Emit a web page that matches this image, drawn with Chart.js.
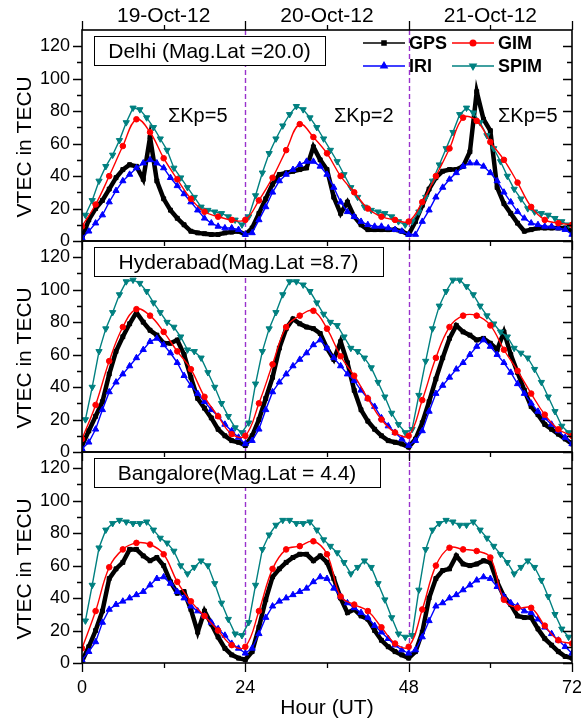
<!DOCTYPE html>
<html>
<head>
<meta charset="utf-8">
<title>VTEC over Delhi, Hyderabad and Bangalore, 19-21 Oct 2012</title>
<script src="https://cdn.jsdelivr.net/npm/chart.js@4.4.1/dist/chart.umd.min.js"></script>
<style>
  html, body { margin: 0; padding: 0; background: #fff; }
  canvas { display: block; }
</style>
</head>
<body>
<canvas id="vtec" width="581" height="721"></canvas>
<script>
// sampling times in hours UT, counted from 00 UT on 19 Oct 2012
function range(start, step, n) {
  return Array.from({length: n}, (_, i) => start + i * step);
}
const gpsHours = range(0, 1, 73);
const gimHours = range(0, 2, 37);
const iriHours = range(0, 1, 73);
const spimHours = range(0.5, 1, 72);

// axis labels
const dayCentres = [12, 36, 60];
const dayLabels = ['19-Oct-12', '20-Oct-12', '21-Oct-12'];
const yTicks = [0, 20, 40, 60, 80, 100, 120];
const kpHours = [17, 41.4, 65.5];
const kpValues = [5, 2, 5];

// Delhi (Mag.Lat 20.0)
const gpsDelhi = [
  2, 13, 20, 25, 32, 39, 44, 47, 46, 38, 64, 37, 26, 19, 14, 10, 6, 5, 4.5, 4, 4, 5, 5.5, 6,
  4, 8, 17, 26, 35, 41, 42, 43, 44, 45, 58, 50, 44, 27, 17, 24, 15, 10, 7, 7, 7, 7, 7, 6,
  4, 12, 22, 32, 39, 43, 44, 44, 46, 55, 92, 75, 68, 33, 23, 17, 11, 6, 7, 8, 8, 8, 8, 8, 6];
const gimDelhi = [
  9, 22.5, 40, 58.5, 75, 67, 51, 38, 26, 18, 15, 13,
  13, 25, 39, 56, 72, 64, 54, 40, 30, 20, 15, 13,
  12, 24, 40, 57, 76, 74, 61, 50, 36, 21, 13, 11, 10];
const iriDelhi = [
  2, 6, 11, 16, 24, 31, 37, 41, 45, 48, 50, 48, 45, 39, 34, 29, 24, 19, 14, 11, 9, 8, 8, 7,
  4, 5, 13, 21, 30, 37, 41, 44, 47, 49, 49, 46, 41, 33, 24, 18, 15, 12, 10, 9, 9, 8, 7, 6,
  4, 4, 12, 19, 27, 33, 38, 42, 46, 48, 48, 46, 42, 37, 30, 24, 18, 14, 11, 10, 9, 9, 8, 7, 4];
const spimDelhi = [
  16, 25, 37, 46, 53, 62, 73, 82, 81, 76, 70, 63, 56, 45, 39, 33, 27, 21, 19, 18, 17, 15, 13, 10,
  15, 28, 42, 54, 63, 71, 78, 83, 81, 76, 70, 63, 56, 49, 41, 33, 27, 21, 19, 18, 17, 15, 12, 10,
  12, 18, 27, 37, 47, 57, 67, 78, 82, 79, 73, 65, 57, 49, 40, 32, 26, 20, 18, 17, 16, 14, 12, 10];

// Hyderabad (Mag.Lat 8.7)
const gpsHyderabad = [
  4, 13, 22, 31, 48, 62, 71, 79, 86, 80, 75, 72, 67, 67, 69, 60, 46, 33, 27, 21, 14, 10, 7, 6,
  4, 10, 20, 33, 46, 64, 76, 82, 79, 77, 76, 73, 64, 57, 68, 55, 38, 26, 19, 14, 10, 7, 6, 5,
  3, 8, 18, 31, 45, 58, 70, 78, 74, 72, 69, 70, 67, 63, 74, 60, 49, 38, 28, 23, 17, 14, 11, 8, 5];
const gimHyderabad = [
  8, 29, 56, 77, 88, 84, 74, 62, 51, 34, 22, 11,
  10, 30, 54, 77, 84, 87, 76, 59, 47, 33, 20, 12,
  10, 32, 58, 77, 84, 84, 78, 63, 50, 36, 23, 14, 10];
const iriHyderabad = [
  2, 6, 14, 26, 37, 43, 48, 53, 58, 63, 68, 70, 66, 61, 55, 47, 41, 36, 31, 26, 22, 17, 13, 9,
  5, 7, 14, 26, 37, 43, 48, 53, 57, 61, 66, 69, 64, 58, 53, 48, 44, 38, 33, 28, 21, 16, 12, 8,
  4, 7, 13, 25, 36, 41, 46, 51, 55, 60, 65, 69, 65, 60, 55, 49, 42, 36, 30, 25, 21, 17, 13, 9, 5];
const spimHyderabad = [
  20, 40, 62, 76, 86, 97, 105, 106, 104, 99, 92, 86, 80, 77, 71, 63, 62, 58, 49, 40, 30, 22, 15, 12,
  18, 42, 62, 76, 86, 97, 105, 105, 103, 99, 92, 85, 80, 78, 71, 64, 62, 58, 52, 43, 34, 24, 17, 12,
  14, 35, 56, 76, 90, 99, 106, 106, 102, 97, 90, 84, 79, 74, 71, 64, 61, 58, 51, 43, 34, 25, 16, 12];

// Bangalore (Mag.Lat 4.4)
const gpsBangalore = [
  1, 10, 20, 32, 52, 58, 62, 70, 70, 66, 63, 65, 60, 50, 43, 44, 33, 19, 32, 24, 16, 9, 5, 3,
  2, 7, 22, 39, 53, 58, 62, 65, 67, 67, 63, 66, 62, 52, 40, 31, 33, 29, 27, 20, 14, 10, 7, 5,
  3, 7, 19, 40, 52, 57, 58, 66, 61, 60, 61, 63, 62, 50, 41, 36, 29, 28, 28, 21, 15, 11, 7, 4, 3];
const gimBangalore = [
  9, 32, 59, 70, 74, 73, 67, 50, 38, 29, 20, 11,
  10, 32, 58, 70, 72, 75, 67, 41, 36, 32, 22, 12,
  10, 33, 60, 71, 70, 69, 65, 39, 34, 34, 23, 14, 12];
const iriBangalore = [
  2, 7, 13, 25, 33, 36, 38, 40, 42, 44, 48, 52, 53, 49, 44, 40, 35, 32, 29, 25, 21, 17, 12, 9,
  6, 9, 18, 28, 35, 38, 40, 42, 44, 46, 50, 53, 52, 46, 41, 37, 34, 31, 28, 23, 19, 15, 11, 8,
  6, 8, 16, 26, 35, 37, 40, 42, 45, 48, 51, 53, 52, 47, 41, 37, 35, 32, 31, 27, 22, 18, 14, 10, 6];
const spimBangalore = [
  26, 48, 71, 82, 86, 88, 87, 86, 86, 87, 82, 77, 74, 69, 60, 55, 59, 63, 60, 49, 37, 27, 18, 17,
  25, 48, 70, 79, 85, 88, 88, 86, 86, 87, 82, 76, 72, 68, 62, 55, 59, 63, 59, 49, 39, 28, 18, 16,
  17, 45, 70, 82, 86, 88, 87, 85, 85, 87, 82, 77, 72, 67, 62, 55, 59, 63, 59, 51, 41, 30, 21, 16];

const FONT = "'Liberation Sans', Arial, Helvetica, sans-serif";
Chart.defaults.font.family = FONT;
Chart.defaults.color = '#000';

// one panel per station, top to bottom
const panels = [
  {id: 'yDelhi', label: 'Delhi (Mag.Lat =20.0)', boxWidth: 231,
   gps: gpsDelhi, gim: gimDelhi, iri: iriDelhi, spim: spimDelhi},
  {id: 'yHyderabad', label: 'Hyderabad(Mag.Lat =8.7)', boxWidth: 289,
   gps: gpsHyderabad, gim: gimHyderabad, iri: iriHyderabad, spim: spimHyderabad},
  {id: 'yBangalore', label: 'Bangalore(Mag.Lat = 4.4)', boxWidth: 286,
   gps: gpsBangalore, gim: gimBangalore, iri: iriBangalore, spim: spimBangalore}
];

const seriesStyle = {
  GPS:  {color: '#000000', borderWidth: 4.5, pointStyle: 'rect', pointRadius: 2.8, rotation: 0, tension: 0, order: 4},
  GIM:  {color: '#ff0000', borderWidth: 1.4, pointStyle: 'circle', pointRadius: 2.8, rotation: 0, tension: 0.4, order: 1},
  IRI:  {color: '#0000ff', borderWidth: 1.4, pointStyle: 'triangle', pointRadius: 3.6, rotation: 0, tension: 0, order: 2},
  SPIM: {color: '#008080', borderWidth: 1.4, pointStyle: 'triangle', pointRadius: 3.6, rotation: 180, tension: 0, order: 3}
};

function makeSeries(name, hours, values, yAxisID) {
  const s = seriesStyle[name];
  return {
    label: name,
    xAxisID: 'x',
    yAxisID: yAxisID,
    data: hours.map((h, i) => ({x: h, y: values[i]})),
    borderColor: s.color,
    backgroundColor: s.color,
    pointBackgroundColor: s.color,
    pointBorderColor: s.color,
    pointBorderWidth: 1,
    borderWidth: s.borderWidth,
    pointStyle: s.pointStyle,
    pointRadius: s.pointRadius,
    pointRotation: s.rotation,
    tension: s.tension,
    fill: false,
    order: s.order
  };
}

const datasets = [];
panels.forEach(p => {
  datasets.push(makeSeries('GPS', gpsHours, p.gps, p.id));
  datasets.push(makeSeries('GIM', gimHours, p.gim, p.id));
  datasets.push(makeSeries('IRI', iriHours, p.iri, p.id));
  datasets.push(makeSeries('SPIM', spimHours, p.spim, p.id));
});

function panelScale() {
  return {
    type: 'linear',
    position: 'left',
    stack: 'stations',
    stackWeight: 1,
    min: 0,
    max: 130,
    afterBuildTicks: s => { s.ticks = yTicks.map(v => ({value: v})); },
    afterFit: s => { s.width = 82; },
    ticks: {font: {size: 18}, padding: 12, autoSkip: false},
    grid: {display: false, drawTicks: false},
    border: {display: false}
  };
}

// the "72" label may hang past the frame, so no extra side padding
function fixedHeight(h) {
  return s => { s.height = h; s.paddingLeft = 0; s.paddingRight = 0; };
}

// the last stacked scale is laid out at the top
const scales = {
  x: {
    type: 'linear',
    position: 'bottom',
    min: 0,
    max: 72,
    afterFit: fixedHeight(58),
    ticks: {stepSize: 24, font: {size: 18}, padding: 14, autoSkip: false, maxRotation: 0},
    grid: {display: false, drawTicks: false},
    border: {display: false},
    title: {display: true, text: 'Hour (UT)', font: {size: 21}, padding: {top: 0, bottom: 0}}
  },
  xTop: {
    type: 'linear',
    position: 'top',
    min: 0,
    max: 72,
    afterBuildTicks: s => { s.ticks = dayCentres.map(v => ({value: v})); },
    afterFit: fixedHeight(30),
    ticks: {callback: (v, i) => dayLabels[i], font: {size: 21}, padding: 1, autoSkip: false, maxRotation: 0},
    grid: {display: false, drawTicks: false},
    border: {display: false}
  }
};
panels.slice().reverse().forEach(p => { scales[p.id] = panelScale(); });

// day boundaries, drawn under the curves
const dayLines = {
  id: 'dayLines',
  beforeDatasetsDraw(chart) {
    const {ctx, chartArea, scales} = chart;
    ctx.save();
    ctx.strokeStyle = '#9932cc';
    ctx.lineWidth = 1.4;
    ctx.setLineDash([5, 3]);
    [24, 48].forEach(h => {
      const px = Math.round(scales.x.getPixelForValue(h)) + 0.5;
      ctx.beginPath();
      ctx.moveTo(px, chartArea.top);
      ctx.lineTo(px, chartArea.bottom);
      ctx.stroke();
    });
    ctx.restore();
  }
};

// frames, tick marks, station boxes, Kp notes, legend and axis titles
const decorations = {
  id: 'decorations',
  afterDraw(chart) {
    const {ctx, chartArea, scales} = chart;
    const xs = scales.x;
    const left = chartArea.left, right = chartArea.right;
    ctx.save();
    ctx.strokeStyle = '#000';
    ctx.fillStyle = '#000';

    panels.forEach((p, idx) => {
      const ys = scales[p.id];
      const top = ys.top, bottom = ys.bottom;

      ctx.lineWidth = 1.6;
      ctx.strokeRect(left, top, right - left, bottom - top);

      ctx.lineWidth = 1.3;
      ctx.beginPath();
      for (let v = 0; v <= 120; v += 10) {
        const py = Math.round(ys.getPixelForValue(v)) + 0.5;
        const len = v % 20 === 0 ? 9 : 5;
        ctx.moveTo(left - len, py); ctx.lineTo(left, py);
        ctx.moveTo(right - len, py); ctx.lineTo(right, py);
      }
      for (let h = 0; h <= 72; h += 12) {
        const px = Math.round(xs.getPixelForValue(h)) + 0.5;
        const len = h % 24 === 0 ? 9 : 5;
        ctx.moveTo(px, bottom); ctx.lineTo(px, bottom + len);
        if (idx === 0) { ctx.moveTo(px, top - len); ctx.lineTo(px, top); }
      }
      ctx.stroke();

      // station name box
      const bx = left + 12, by = top + 6.5, bh = 29;
      ctx.fillStyle = '#fff';
      ctx.fillRect(bx, by, p.boxWidth, bh);
      ctx.lineWidth = 1;
      ctx.strokeRect(bx + 0.5, by, p.boxWidth, bh);
      ctx.fillStyle = '#000';
      ctx.font = '21px ' + FONT;
      ctx.textAlign = 'center';
      ctx.textBaseline = 'middle';
      ctx.fillText(p.label, bx + p.boxWidth / 2, by + bh / 2 + 1);

      // y axis title
      ctx.save();
      ctx.translate(25, ys.getPixelForValue(58));
      ctx.rotate(-Math.PI / 2);
      ctx.font = '21px ' + FONT;
      ctx.fillText('VTEC in TECU', 0, 0);
      ctx.restore();
    });

    // planetary Kp sums for each day
    const yd = scales.yDelhi;
    ctx.font = '20px ' + FONT;
    ctx.textAlign = 'center';
    kpHours.forEach((h, i) => {
      ctx.fillText('\u03A3Kp=' + kpValues[i], xs.getPixelForValue(h), yd.getPixelForValue(77));
    });

    // legend, two rows by two columns
    const items = [['GPS', 0, 0], ['GIM', 1, 0], ['IRI', 0, 1], ['SPIM', 1, 1]];
    const colX = [363, 452], rowY = [chartArea.top + 13, chartArea.top + 36];
    ctx.font = 'bold 18px ' + FONT;
    ctx.textAlign = 'left';
    items.forEach(([name, c, r]) => {
      const s = seriesStyle[name];
      const x0 = colX[c], y0 = rowY[r];
      ctx.strokeStyle = s.color;
      ctx.fillStyle = s.color;
      ctx.lineWidth = name === 'GPS' ? 1.6 : 1.4;
      ctx.beginPath();
      ctx.moveTo(x0, y0); ctx.lineTo(x0 + 42, y0);
      ctx.stroke();
      Chart.helpers.drawPoint(ctx, {pointStyle: s.pointStyle, radius: s.pointRadius,
        rotation: s.rotation, borderWidth: 1}, x0 + 21, y0);
      ctx.fillStyle = '#000';
      ctx.fillText(name, x0 + 46, y0 + 1);
    });
    ctx.restore();
  }
};

new Chart(document.getElementById('vtec'), {
  type: 'line',
  data: {datasets},
  options: {
    responsive: false,
    animation: false,
    devicePixelRatio: 1,
    layout: {padding: {left: 0, right: 9, top: 0, bottom: 0}},
    plugins: {legend: {display: false}, tooltip: {enabled: false}},
    scales
  },
  plugins: [dayLines, decorations]
});
</script>
</body>
</html>
